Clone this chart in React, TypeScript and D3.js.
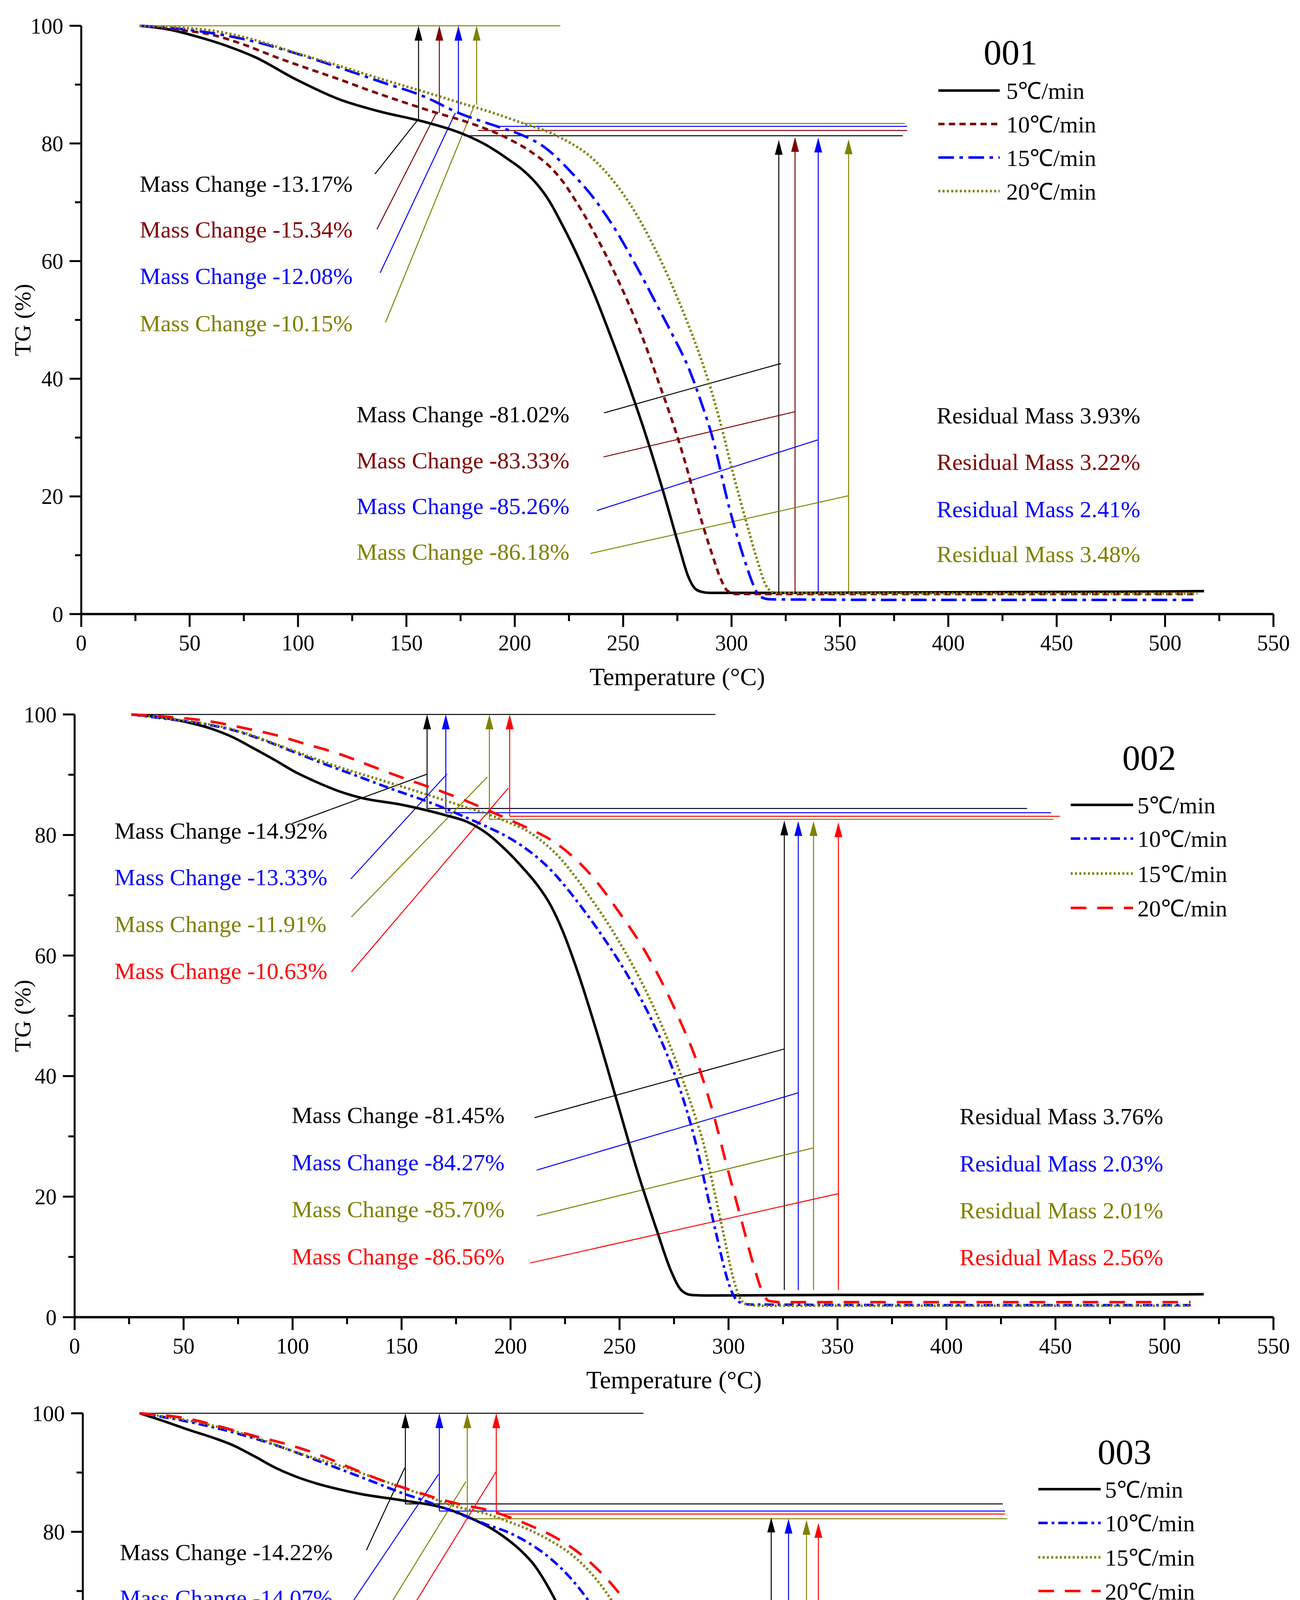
import * as d3 from 'd3'
import { useEffect } from 'react'

const W = 3328
const H = 5360
const FONT = '"Liberation Serif", "Times New Roman", serif'

const BLACK = '#000000'
const DARKRED = '#800000'
const BLUE = '#0000FF'
const OLIVE = '#808000'
const RED = '#FF0000'

type Pt = [number, number]

// ---- TG curves (temperature °C, TG %) ----
const tg001_5: Pt[] = [[27,100],[40,99.4],[54,98.1],[67,96.6],[80,94.7],[99,90.9],[119,87.5],[138,85.4],[158,83.7],[177.5,81.4],[187,79.7],[197,77.3],[203,75.7],[209,73.6],[213,71.8],[216.6,69.8],[221,66.8],[226,63.2],[236,55],[245,46.5],[253,38.5],[261,29.8],[268.5,20.8],[276,11.2],[280,6.4],[283,4.4],[286,3.8],[290,3.6],[320,3.6],[400,3.7],[480,3.8],[518,3.9]]
const tg001_10: Pt[] = [[27,100],[45,99.3],[60,98.5],[75,96.8],[89.6,94.7],[104,92.8],[119,90.9],[133,89],[148,87.1],[163,85.3],[177.5,83.7],[197,80.8],[207,78.7],[216.6,75.9],[222,73.6],[228,70.3],[234,66.6],[240,62.5],[248,56.5],[255.7,50],[261,45],[266,39.8],[271,34.6],[276,29],[280,24],[284,18.6],[291,10.2],[295,6],[298,4],[302,3.4],[400,3.4],[513,3.4]]
const tg001_15: Pt[] = [[27,100],[50,99.3],[80,97.3],[100,95.2],[119,92.9],[138,90.5],[158,88],[174,85.2],[191,83],[200,81.9],[207,80.8],[212,79.8],[216,78.7],[221,77],[226,75.1],[236,70.9],[246,65.6],[256,59.2],[265.5,52.6],[273,47.3],[280,42],[286,36],[291,30.3],[299,18],[306.7,8.4],[310,5],[313,3],[318,2.5],[400,2.4],[513,2.4]]
const tg001_20: Pt[] = [[27,100],[45,99.7],[60,99.2],[80,97.6],[99,95.4],[118,93.3],[138,91],[158,88.8],[177.5,86.6],[190,85.2],[204,83.4],[216.6,81.8],[226,80],[232,78.6],[238,76.7],[244,74.3],[250,71.4],[255.7,68.2],[263,63.3],[269,58.8],[277,52],[285.7,43.6],[290,38.8],[295,32.3],[301,23.5],[306.7,15.8],[312,9],[316,4.8],[320,3.6],[400,3.5],[515,3.5]]

const tg002_5: Pt[] = [[26,100],[40,99.5],[53,98.6],[63,97.6],[72.7,96.2],[82,94.4],[92,92.4],[101,90.5],[111.5,88.7],[121,87.3],[131,86.2],[150.4,85],[170,83.3],[180,82.2],[189,80.3],[198.7,77.2],[206,74.4],[212.5,71.6],[218,68.6],[224,64],[230.8,57.3],[239.9,46.9],[249,35.6],[258.2,24.2],[267.3,14.2],[273.7,7.6],[278.3,4.5],[282.8,3.7],[290,3.6],[350,3.7],[450,3.7],[518,3.8]]
const tg002_10: Pt[] = [[26,100],[43.5,99.2],[58,98.5],[72.7,97.4],[87,95.7],[101.8,93.6],[116,91.6],[131,89.6],[145,87.7],[160,85.8],[170,84.4],[179.6,82.9],[189,81.4],[199,79.6],[206,78],[212.5,76.2],[219,74],[226.2,71],[232,68.3],[239.9,64.4],[247,60.6],[253.6,56.8],[262.7,50.8],[271.9,43.5],[276,39.6],[280,35.3],[285.6,28],[290.2,20.5],[294.7,13.3],[299.3,6.5],[302,3.8],[305,2.5],[310,2.1],[400,2.0],[512,2.0]]
const tg002_15: Pt[] = [[26,100],[43.5,99.3],[72.7,97.5],[101.8,93.8],[121,91.3],[140.7,89.1],[160,86.9],[179.6,84.6],[190,83.4],[199,82.1],[208,80.6],[216,78.5],[223.4,75.9],[229,73.4],[235.3,70.3],[249,62.8],[262.7,53.7],[271.9,46.2],[281,37.3],[285,33],[288.4,29],[291,25],[293,21.7],[297.5,14.2],[302,6.7],[305.2,3.2],[308,2.2],[314,1.9],[400,1.9],[512,1.9]]
const tg002_20: Pt[] = [[26,100],[39.6,99.7],[63,98.8],[77,97.8],[92,96.6],[106,95.1],[121,93.5],[135,91.6],[150.4,89.5],[160,88.3],[170,87],[180,85.6],[189,84.2],[199,82.6],[208.8,81],[218,79.3],[228,76.6],[238,72.9],[249,67.6],[262.7,60.1],[276.5,50.2],[285.6,42.3],[293,33.8],[299.3,25],[305.7,16.4],[311.2,9],[315.8,4],[318.5,2.7],[324,2.5],[400,2.5],[512,2.5]]

const tg003_5: Pt[] = [[26.3,100],[38,98.6],[49.8,97.1],[60,95.9],[69.4,94.6],[79,92.8],[89,90.8],[98.5,89.3],[108.5,88.1],[118,87.2],[128,86.4],[147.7,85.3],[167,84],[181,82],[189,80.5],[196.6,78.6],[203,76.6],[208.3,74.5],[214,71.3],[220,67.2],[228,60.5],[235.7,53],[241,47],[246,40.6],[252.8,31.6],[260.4,21.9],[268,14],[275.7,7.4],[280,5.3],[284,4.7],[350,4.6],[450,4.6],[518,4.7]]
const tg003_10: Pt[] = [[26.3,100],[49.8,98.5],[64,97.3],[79,95.8],[94,94],[108.5,92],[123,90],[137.9,87.9],[147,86.6],[157.5,85.3],[167,84],[177,82.6],[186,81.3],[196.6,79.9],[206,78.1],[216,75.5],[226,71.9],[235.7,67.2],[245,61],[255.3,52.8],[260,48],[264,43.6],[272,33.6],[279.6,23.9],[287,14.2],[295,6.7],[298,4.3],[301,3.2],[305,2.8],[400,2.7],[512,2.6]]
const tg003_15: Pt[] = [[26.3,100],[50,98.7],[79,96],[98,93.5],[118.4,91.2],[138,88.7],[157.5,86.2],[172,84.3],[186.8,83],[196,81.8],[206.4,80.3],[216,78.5],[226,76.1],[236,72.5],[245.6,67.7],[255,61.5],[263,55.3],[268.6,50.5],[275.7,43.5],[283.5,33.5],[291,22],[298.8,12.3],[303,7.5],[306.4,4.7],[310,3],[315,2.6],[400,2.6],[512,2.6]]
const tg003_20: Pt[] = [[26.3,100],[49.8,99],[64,97.7],[79,96.2],[94,94.8],[108.5,93.1],[123,90.9],[137.9,88.7],[152,87],[167,85.3],[176,84.5],[186.8,83.7],[196,82.6],[206.4,81.1],[216,79.5],[226,77.3],[236,74.3],[245.6,70.6],[254,66.5],[261,61.8],[268.6,56.5],[276,49.8],[282.6,42.3],[289,33.4],[295,24],[302.6,14],[308.3,7.4],[312,4.8],[316,4.1],[400,4.0],[512,4.0]]

// ---- labels / values ----
const rates001 = ['5℃/min', '10℃/min', '15℃/min', '20℃/min']
const rates002 = ['5℃/min', '10℃/min', '15℃/min', '20℃/min']
const rates003 = ['5℃/min', '10℃/min', '15℃/min', '20℃/min']

const firstStep001 = [-13.17, -15.34, -12.08, -10.15]
const mainStep001 = [-81.02, -83.33, -85.26, -86.18]
const residual001 = [3.93, 3.22, 2.41, 3.48]

const firstStep002 = [-14.92, -13.33, -11.91, -10.63]
const mainStep002 = [-81.45, -84.27, -85.7, -86.56]
const residual002 = [3.76, 2.03, 2.01, 2.56]

const firstStep003 = [-14.22, -14.07, -13.56, -12.97]
const mainStep003 = [-80.79, -82.73, -83.23, -82.76]
const residual003 = [3.76, 2.03, 2.01, 2.56]

const xTicks = d3.range(0, 551, 50)
const xMinor = d3.range(25, 550, 50)
const yTicks = d3.range(0, 101, 20)
const yMinor = d3.range(10, 100, 20)

interface LineStyle { color: string; dash: string; width: number }

interface PanelCfg {
  name: string
  box: { x0: number; x1: number; y0: number; y1: number }
  series: Pt[][]
  rates: string[]
  styles: LineStyle[]
  firstStep: number[]
  mainStep: number[]
  residual: number[]
  residualColors: string[]
  topLine: { color: string; from: number; to: number }
  topArrowT: number[]
  topArrowBase: number[]
  upperLeadFrom: Pt[]
  upperLeadTo: Pt[]
  plateauLevel: number[]
  plateauFrom: number[]
  plateauTo: number[]
  lowArrowT: number[]
  lowArrowTip: number[]
  lowArrowBase: number
  lowerLeadFrom: Pt[]
  lowerLeadTo: Pt[]
  upperLabelT: number
  upperLabelV: number[]
  lowerLabelT: number
  lowerLabelV: number[]
  resLabelT: number
  resLabelV: number[]
  legTitle: Pt
  legLine: [number, number]
  legTextT: number
  legRows: number[]
}

const style001: LineStyle[] = [
  { color: BLACK, dash: '', width: 6.5 },
  { color: DARKRED, dash: '16 11', width: 6.5 },
  { color: BLUE, dash: '40 14 9 14', width: 6.5 },
  { color: OLIVE, dash: '5 6', width: 6.5 },
]
const style023: LineStyle[] = [
  { color: BLACK, dash: '', width: 6.5 },
  { color: BLUE, dash: '24 10 7 10', width: 6.5 },
  { color: OLIVE, dash: '5 6', width: 6.5 },
  { color: RED, dash: '40 28', width: 6.5 },
]

const panels: PanelCfg[] = [
  {
    name: '001',
    box: { x0: 208, x1: 3260, y0: 1572, y1: 66 },
    series: [tg001_5, tg001_10, tg001_15, tg001_20],
    rates: rates001,
    styles: style001,
    firstStep: firstStep001,
    mainStep: mainStep001,
    residual: residual001,
    residualColors: [BLACK, DARKRED, BLUE, OLIVE],
    topLine: { color: OLIVE, from: 27, to: 221 },
    topArrowT: [155.6, 165.2, 174, 182.4],
    topArrowBase: [83.8, 85.2, 85.2, 86.6],
    upperLeadFrom: [[135.5, 74.8], [136.4, 65.4], [137.9, 58], [140.4, 49.6]],
    upperLeadTo: [[154.8, 83.8], [163.8, 85.2], [172.6, 85.2], [181.5, 86.6]],
    plateauLevel: [81.3, 82.2, 82.9, 83.4],
    plateauFrom: [176.6, 183, 191, 204],
    plateauTo: [379, 381, 381, 380],
    lowArrowT: [321.8, 329.3, 340, 354],
    lowArrowTip: [80.6, 81.1, 81, 80.7],
    lowArrowBase: 3.8,
    lowerLeadFrom: [[241.2, 34.2], [240.9, 26.7], [237.9, 17.6], [234.9, 10.3]],
    lowerLeadTo: [[322.8, 42.6], [329.3, 34.4], [339.7, 29.6], [353.8, 20.1]],
    upperLabelT: 27,
    upperLabelV: [71.8, 64, 56.1, 48.1],
    lowerLabelT: 127,
    lowerLabelV: [32.6, 24.8, 17, 9.2],
    resLabelT: 394.6,
    resLabelV: [32.4, 24.5, 16.5, 8.8],
    legTitle: [428.7, 93.4],
    legLine: [395.4, 423.7],
    legTextT: 426.8,
    legRows: [89, 83.3, 77.6, 71.9],
  },
  {
    name: '002',
    box: { x0: 191, x1: 3260, y0: 3372, y1: 1829 },
    series: [tg002_5, tg002_10, tg002_15, tg002_20],
    rates: rates002,
    styles: style023,
    firstStep: firstStep002,
    mainStep: mainStep002,
    residual: residual002,
    residualColors: [BLACK, BLUE, OLIVE, RED],
    topLine: { color: BLACK, from: 26, to: 294 },
    topArrowT: [161.7, 170.3, 190.3, 199.6],
    topArrowBase: [84.4, 83.7, 82.6, 83.1],
    upperLeadFrom: [[99.8, 81.9], [126.7, 72.7], [127, 66.4], [127, 57.3]],
    upperLeadTo: [[161.7, 90.1], [170.8, 90.1], [189.3, 89.6], [199, 87.8]],
    plateauLevel: [84.4, 83.7, 82.6, 83.1],
    plateauFrom: [161.7, 170.3, 190.3, 199.6],
    plateauTo: [437, 448, 449, 452],
    lowArrowT: [325.6, 332, 339, 350.4],
    lowArrowTip: [82.4, 82.3, 82.3, 82.1],
    lowArrowBase: 4.5,
    lowerLeadFrom: [[211, 33.1], [212, 24.4], [212, 16.8], [209, 9]],
    lowerLeadTo: [[325.6, 44.5], [331.7, 37.2], [339, 28.1], [350.4, 20.5]],
    upperLabelT: 18.3,
    upperLabelV: [79.4, 71.7, 63.9, 56.1],
    lowerLabelT: 99.6,
    lowerLabelV: [32.2, 24.4, 16.6, 8.75],
    resLabelT: 406,
    resLabelV: [32, 24.2, 16.4, 8.6],
    legTitle: [493, 90.8],
    legLine: [457, 485.6],
    legTextT: 487.6,
    legRows: [85, 79.4, 73.6, 67.9],
  },
  {
    name: '003',
    box: { x0: 212, x1: 3260, y0: 5135, y1: 3618 },
    series: [tg003_5, tg003_10, tg003_15, tg003_20],
    rates: rates003,
    styles: style023,
    firstStep: firstStep003,
    mainStep: mainStep003,
    residual: residual003,
    residualColors: [BLACK, DARKRED, BLUE, OLIVE],
    topLine: { color: BLACK, from: 26, to: 259 },
    topArrowT: [149, 164.7, 177.6, 191],
    topArrowBase: [84.7, 83.5, 82.2, 83],
    upperLeadFrom: [[131, 76.9], [125.2, 68.5], [128.5, 59.7], [127, 52.3]],
    upperLeadTo: [[148.7, 90.8], [164.3, 89.7], [177, 88.5], [191, 90.2]],
    plateauLevel: [84.7, 83.5, 82.2, 83],
    plateauFrom: [149, 164.7, 177.6, 191],
    plateauTo: [425, 426, 427, 426],
    lowArrowT: [318, 326, 334.3, 339.8],
    lowArrowTip: [82.4, 82.2, 82, 81.5],
    lowArrowBase: 5,
    lowerLeadFrom: [[221.4, 35.5], [220.2, 27.8], [217.5, 19.3], [220.2, 12]],
    lowerLeadTo: [[318, 44.1], [325.6, 36.4], [335, 29.9], [340.9, 21.8]],
    upperLabelT: 17.1,
    upperLabelV: [75.2, 67.5, 59.6, 51.7],
    lowerLabelT: 109.2,
    lowerLabelV: [35, 27, 19.1, 11.2],
    resLabelT: 399.5,
    resLabelV: [36.4, 28.4, 20.5, 12.5],
    legTitle: [481.2, 91.4],
    legLine: [441.4, 470.2],
    legTextT: 472.2,
    legRows: [87.2, 81.5, 75.7, 70],
  },
]

function Panel({ cfg }: { cfg: PanelCfg }) {
  const { box } = cfg
  const x = d3.scaleLinear().domain([0, 550]).range([box.x0, box.x1])
  const y = d3.scaleLinear().domain([0, 100]).range([box.y0, box.y1])
  const line = d3
    .line<Pt>()
    .x(d => x(d[0]))
    .y(d => y(d[1]))
    .curve(d3.curveMonotoneX)
  const colors = cfg.styles.map(s => s.color)

  const arrowHead = (t: number, v: number, color: string, key: string) => {
    const cx = x(t)
    const cy = y(v)
    return (
      <path
        key={key}
        d={`M${cx},${cy} L${cx - 10},${cy + 38} L${cx + 10},${cy + 38} Z`}
        fill={color}
      />
    )
  }

  return (
    <g fontFamily={FONT}>
      {/* axes */}
      <line x1={x(0)} x2={x(550)} y1={y(0)} y2={y(0)} stroke="#000" strokeWidth={6} />
      <line x1={x(0)} x2={x(0)} y1={y(0) + 3} y2={y(100)} stroke="#000" strokeWidth={5} />
      {xTicks.map(t => (
        <g key={'xt' + t}>
          <line x1={x(t)} x2={x(t)} y1={y(0)} y2={y(0) + 33} stroke="#000" strokeWidth={5} />
          <text x={x(t)} y={y(0) + 93} textAnchor="middle" fontSize={56}>
            {t}
          </text>
        </g>
      ))}
      {xMinor.map(t => (
        <line key={'xm' + t} x1={x(t)} x2={x(t)} y1={y(0)} y2={y(0) + 18} stroke="#000" strokeWidth={5} />
      ))}
      {yTicks.map(t => (
        <g key={'yt' + t}>
          <line x1={x(0) - 30} x2={x(0)} y1={y(t)} y2={y(t)} stroke="#000" strokeWidth={5} />
          <text x={x(0) - 46} y={y(t)} dy="0.35em" textAnchor="end" fontSize={56}>
            {t}
          </text>
        </g>
      ))}
      {yMinor.map(t => (
        <line key={'ym' + t} x1={x(0) - 16} x2={x(0)} y1={y(t)} y2={y(t)} stroke="#000" strokeWidth={5} />
      ))}
      <text x={x(275)} y={y(0) + 182} textAnchor="middle" fontSize={64}>
        Temperature (°C)
      </text>
      <text
        transform={`translate(78,${(box.y0 + box.y1) / 2}) rotate(-90)`}
        textAnchor="middle"
        fontSize={60}
      >
        TG (%)
      </text>

      {/* annotation construction lines */}
      <line
        x1={x(cfg.topLine.from)}
        x2={x(cfg.topLine.to)}
        y1={y(100)}
        y2={y(100)}
        stroke={cfg.topLine.color}
        strokeWidth={2.5}
      />
      {cfg.plateauLevel.map((lv, i) => (
        <line
          key={'pl' + i}
          x1={x(cfg.plateauFrom[i])}
          x2={x(cfg.plateauTo[i])}
          y1={y(lv)}
          y2={y(lv)}
          stroke={colors[i]}
          strokeWidth={2.5}
        />
      ))}
      {cfg.topArrowT.map((t, i) => (
        <g key={'ta' + i}>
          <line x1={x(t)} x2={x(t)} y1={y(cfg.topArrowBase[i])} y2={y(100) + 20} stroke={colors[i]} strokeWidth={2.5} />
          {arrowHead(t, 100, colors[i], 'tah' + i)}
        </g>
      ))}
      {cfg.lowArrowT.map((t, i) => (
        <g key={'la' + i}>
          <line x1={x(t)} x2={x(t)} y1={y(cfg.lowArrowBase)} y2={y(cfg.lowArrowTip[i]) + 20} stroke={colors[i]} strokeWidth={2.5} />
          {arrowHead(t, cfg.lowArrowTip[i], colors[i], 'lah' + i)}
        </g>
      ))}
      {cfg.upperLeadFrom.map((p, i) => (
        <line
          key={'ul' + i}
          x1={x(p[0])}
          y1={y(p[1])}
          x2={x(cfg.upperLeadTo[i][0])}
          y2={y(cfg.upperLeadTo[i][1])}
          stroke={colors[i]}
          strokeWidth={2.5}
        />
      ))}
      {cfg.lowerLeadFrom.map((p, i) => (
        <line
          key={'ll' + i}
          x1={x(p[0])}
          y1={y(p[1])}
          x2={x(cfg.lowerLeadTo[i][0])}
          y2={y(cfg.lowerLeadTo[i][1])}
          stroke={colors[i]}
          strokeWidth={2.5}
        />
      ))}

      {/* curves */}
      {cfg.series.map((s, i) => (
        <path
          key={'c' + i}
          d={line(s) ?? ''}
          fill="none"
          stroke={cfg.styles[i].color}
          strokeWidth={cfg.styles[i].width}
          strokeDasharray={cfg.styles[i].dash || undefined}
        />
      ))}

      {/* text labels */}
      {cfg.firstStep.map((v, i) => (
        <text key={'fs' + i} x={x(cfg.upperLabelT)} y={y(cfg.upperLabelV[i])} fontSize={60} fill={colors[i]}>
          {`Mass Change ${v.toFixed(2)}%`}
        </text>
      ))}
      {cfg.mainStep.map((v, i) => (
        <text key={'ms' + i} x={x(cfg.lowerLabelT)} y={y(cfg.lowerLabelV[i])} fontSize={60} fill={colors[i]}>
          {`Mass Change ${v.toFixed(2)}%`}
        </text>
      ))}
      {cfg.residual.map((v, i) => (
        <text key={'rs' + i} x={x(cfg.resLabelT)} y={y(cfg.resLabelV[i])} fontSize={60} fill={cfg.residualColors[i]}>
          {`Residual Mass ${v.toFixed(2)}%`}
        </text>
      ))}

      {/* legend */}
      <text x={x(cfg.legTitle[0])} y={y(cfg.legTitle[1])} textAnchor="middle" fontSize={92}>
        {cfg.name}
      </text>
      {cfg.rates.map((r, i) => (
        <g key={'lg' + i}>
          <line
            x1={x(cfg.legLine[0])}
            x2={x(cfg.legLine[1])}
            y1={y(cfg.legRows[i])}
            y2={y(cfg.legRows[i])}
            stroke={cfg.styles[i].color}
            strokeWidth={cfg.styles[i].width}
            strokeDasharray={cfg.styles[i].dash || undefined}
          />
          <text x={x(cfg.legTextT)} y={y(cfg.legRows[i])} dy="0.36em" fontSize={60}>
            {r}
          </text>
        </g>
      ))}
    </g>
  )
}

export default function App() {
  useEffect(() => {
    document.body.style.margin = '0'
  }, [])
  return (
    <svg
      width={W}
      height={H}
      viewBox={`0 0 ${W} ${H}`}
      style={{ display: 'block', background: '#fff' }}
    >
      <rect width={W} height={H} fill="#fff" />
      {panels.map(p => (
        <Panel key={p.name} cfg={p} />
      ))}
    </svg>
  )
}
